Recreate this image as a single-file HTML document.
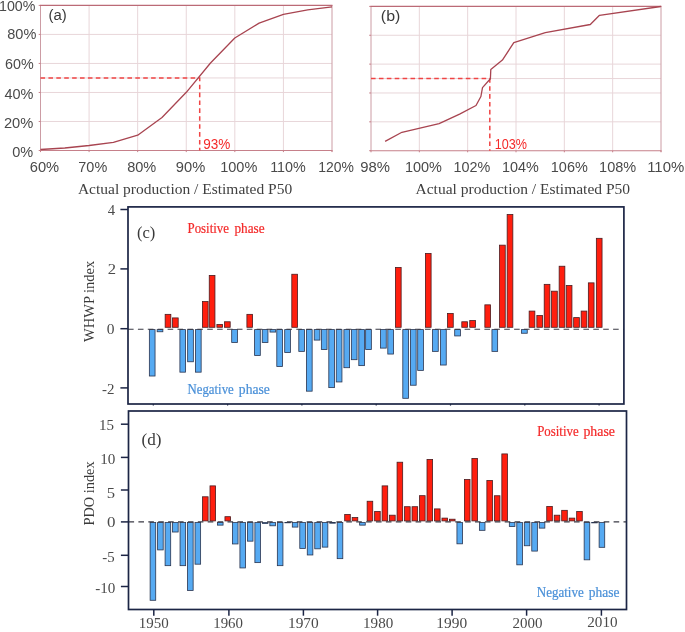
<!DOCTYPE html>
<html><head><meta charset="utf-8"><title>Figure</title>
<style>html,body{margin:0;padding:0;background:#fff;} body{width:685px;height:632px;overflow:hidden;font-family:"Liberation Sans", sans-serif;} svg{display:block;will-change:transform;}</style>
</head><body>
<svg width="685" height="632" viewBox="0 0 685 632">
<line x1="89.08" y1="5.40" x2="89.08" y2="150.50" stroke="#e8d6d9" stroke-width="1"/>
<line x1="137.67" y1="5.40" x2="137.67" y2="150.50" stroke="#e8d6d9" stroke-width="1"/>
<line x1="186.25" y1="5.40" x2="186.25" y2="150.50" stroke="#e8d6d9" stroke-width="1"/>
<line x1="234.83" y1="5.40" x2="234.83" y2="150.50" stroke="#e8d6d9" stroke-width="1"/>
<line x1="283.42" y1="5.40" x2="283.42" y2="150.50" stroke="#e8d6d9" stroke-width="1"/>
<line x1="40.50" y1="121.48" x2="332.00" y2="121.48" stroke="#e8d6d9" stroke-width="1"/>
<line x1="40.50" y1="92.46" x2="332.00" y2="92.46" stroke="#e8d6d9" stroke-width="1"/>
<line x1="40.50" y1="77.95" x2="332.00" y2="77.95" stroke="#e8d6d9" stroke-width="1"/>
<line x1="40.50" y1="63.44" x2="332.00" y2="63.44" stroke="#e8d6d9" stroke-width="1"/>
<line x1="40.50" y1="34.42" x2="332.00" y2="34.42" stroke="#e8d6d9" stroke-width="1"/>
<line x1="40.50" y1="5.40" x2="40.50" y2="150.50" stroke="#cc9ca4" stroke-width="1"/>
<line x1="332.00" y1="5.40" x2="332.00" y2="151.70" stroke="#cc9ca4" stroke-width="1"/>
<line x1="38.70" y1="150.50" x2="40.50" y2="150.50" stroke="#c6808a" stroke-width="1"/>
<line x1="38.70" y1="121.48" x2="40.50" y2="121.48" stroke="#c6808a" stroke-width="1"/>
<line x1="38.70" y1="92.46" x2="40.50" y2="92.46" stroke="#c6808a" stroke-width="1"/>
<line x1="38.70" y1="63.44" x2="40.50" y2="63.44" stroke="#c6808a" stroke-width="1"/>
<line x1="38.70" y1="34.42" x2="40.50" y2="34.42" stroke="#c6808a" stroke-width="1"/>
<line x1="38.70" y1="5.40" x2="40.50" y2="5.40" stroke="#c6808a" stroke-width="1"/>
<line x1="40.50" y1="150.50" x2="40.50" y2="152.10" stroke="#c6808a" stroke-width="1"/>
<line x1="89.08" y1="150.50" x2="89.08" y2="152.10" stroke="#c6808a" stroke-width="1"/>
<line x1="137.67" y1="150.50" x2="137.67" y2="152.10" stroke="#c6808a" stroke-width="1"/>
<line x1="186.25" y1="150.50" x2="186.25" y2="152.10" stroke="#c6808a" stroke-width="1"/>
<line x1="234.83" y1="150.50" x2="234.83" y2="152.10" stroke="#c6808a" stroke-width="1"/>
<line x1="283.42" y1="150.50" x2="283.42" y2="152.10" stroke="#c6808a" stroke-width="1"/>
<line x1="332.00" y1="150.50" x2="332.00" y2="152.10" stroke="#c6808a" stroke-width="1"/>
<line x1="40.00" y1="5.40" x2="332.50" y2="5.40" stroke="#bb6a76" stroke-width="1.1"/>
<line x1="40.00" y1="150.50" x2="332.50" y2="150.50" stroke="#c6808a" stroke-width="1.1"/>
<line x1="419.33" y1="6.40" x2="419.33" y2="150.70" stroke="#e8d6d9" stroke-width="1"/>
<line x1="467.67" y1="6.40" x2="467.67" y2="150.70" stroke="#e8d6d9" stroke-width="1"/>
<line x1="516.00" y1="6.40" x2="516.00" y2="150.70" stroke="#e8d6d9" stroke-width="1"/>
<line x1="564.33" y1="6.40" x2="564.33" y2="150.70" stroke="#e8d6d9" stroke-width="1"/>
<line x1="612.67" y1="6.40" x2="612.67" y2="150.70" stroke="#e8d6d9" stroke-width="1"/>
<line x1="371.00" y1="121.84" x2="661.00" y2="121.84" stroke="#e8d6d9" stroke-width="1"/>
<line x1="371.00" y1="92.98" x2="661.00" y2="92.98" stroke="#e8d6d9" stroke-width="1"/>
<line x1="371.00" y1="78.55" x2="661.00" y2="78.55" stroke="#e8d6d9" stroke-width="1"/>
<line x1="371.00" y1="64.12" x2="661.00" y2="64.12" stroke="#e8d6d9" stroke-width="1"/>
<line x1="371.00" y1="35.26" x2="661.00" y2="35.26" stroke="#e8d6d9" stroke-width="1"/>
<line x1="371.00" y1="6.40" x2="371.00" y2="150.70" stroke="#cc9ca4" stroke-width="1"/>
<line x1="661.00" y1="6.40" x2="661.00" y2="151.90" stroke="#cc9ca4" stroke-width="1"/>
<line x1="369.20" y1="150.70" x2="371.00" y2="150.70" stroke="#c6808a" stroke-width="1"/>
<line x1="369.20" y1="121.84" x2="371.00" y2="121.84" stroke="#c6808a" stroke-width="1"/>
<line x1="369.20" y1="92.98" x2="371.00" y2="92.98" stroke="#c6808a" stroke-width="1"/>
<line x1="369.20" y1="64.12" x2="371.00" y2="64.12" stroke="#c6808a" stroke-width="1"/>
<line x1="369.20" y1="35.26" x2="371.00" y2="35.26" stroke="#c6808a" stroke-width="1"/>
<line x1="369.20" y1="6.40" x2="371.00" y2="6.40" stroke="#c6808a" stroke-width="1"/>
<line x1="371.00" y1="150.70" x2="371.00" y2="152.30" stroke="#c6808a" stroke-width="1"/>
<line x1="419.33" y1="150.70" x2="419.33" y2="152.30" stroke="#c6808a" stroke-width="1"/>
<line x1="467.67" y1="150.70" x2="467.67" y2="152.30" stroke="#c6808a" stroke-width="1"/>
<line x1="516.00" y1="150.70" x2="516.00" y2="152.30" stroke="#c6808a" stroke-width="1"/>
<line x1="564.33" y1="150.70" x2="564.33" y2="152.30" stroke="#c6808a" stroke-width="1"/>
<line x1="612.67" y1="150.70" x2="612.67" y2="152.30" stroke="#c6808a" stroke-width="1"/>
<line x1="661.00" y1="150.70" x2="661.00" y2="152.30" stroke="#c6808a" stroke-width="1"/>
<line x1="370.50" y1="6.40" x2="661.50" y2="6.40" stroke="#bb6a76" stroke-width="1.1"/>
<line x1="370.50" y1="150.70" x2="661.50" y2="150.70" stroke="#c6808a" stroke-width="1.1"/>
<polyline points="40.50,77.95 199.70,77.95 199.70,150.50" fill="none" stroke="#f04444" stroke-width="1.5" stroke-dasharray="4.6 3.3"/>
<polyline points="371.00,78.55 489.80,78.55 489.80,150.70" fill="none" stroke="#f04444" stroke-width="1.5" stroke-dasharray="4.6 3.3"/>
<polyline points="40.50,149.50 64.80,148.00 89.10,145.50 113.40,142.30 137.70,135.20 162.00,117.50 186.30,92.30 210.50,63.00 234.80,38.00 259.10,23.10 283.40,14.40 307.70,9.90 332.00,6.90" fill="none" stroke="#a84450" stroke-width="1.3" stroke-linejoin="round"/>
<polyline points="385.10,141.40 401.90,132.30 439.10,123.60 459.60,114.10 476.00,105.50 480.90,96.50 482.50,87.60 490.40,78.70 490.80,69.50 502.40,60.10 513.80,42.70 545.30,32.70 590.30,24.50 599.50,15.30 660.80,6.50" fill="none" stroke="#a84450" stroke-width="1.3" stroke-linejoin="round"/>
<rect x="149.35" y="329.60" width="5.70" height="46.42" fill="#56aaf2" stroke="#2a3550" stroke-width="0.8"/>
<rect x="157.15" y="329.60" width="5.70" height="2.17" fill="#56aaf2" stroke="#2a3550" stroke-width="0.8"/>
<rect x="165.15" y="314.35" width="5.70" height="12.95" fill="#ff1e0e" stroke="#4a1c20" stroke-width="0.8"/>
<rect x="172.50" y="317.91" width="5.70" height="9.39" fill="#ff1e0e" stroke="#4a1c20" stroke-width="0.8"/>
<rect x="179.90" y="329.60" width="5.70" height="42.56" fill="#56aaf2" stroke="#2a3550" stroke-width="0.8"/>
<rect x="187.65" y="329.60" width="5.70" height="32.17" fill="#56aaf2" stroke="#2a3550" stroke-width="0.8"/>
<rect x="195.45" y="329.60" width="5.70" height="42.56" fill="#56aaf2" stroke="#2a3550" stroke-width="0.8"/>
<rect x="202.40" y="301.58" width="5.70" height="25.72" fill="#ff1e0e" stroke="#4a1c20" stroke-width="0.8"/>
<rect x="209.25" y="275.44" width="5.70" height="51.86" fill="#ff1e0e" stroke="#4a1c20" stroke-width="0.8"/>
<rect x="216.90" y="324.44" width="5.70" height="2.85" fill="#ff1e0e" stroke="#4a1c20" stroke-width="0.8"/>
<rect x="224.50" y="321.77" width="5.70" height="5.53" fill="#ff1e0e" stroke="#4a1c20" stroke-width="0.8"/>
<rect x="231.70" y="329.60" width="5.70" height="12.86" fill="#56aaf2" stroke="#2a3550" stroke-width="0.8"/>
<rect x="246.90" y="314.35" width="5.70" height="12.95" fill="#ff1e0e" stroke="#4a1c20" stroke-width="0.8"/>
<rect x="254.60" y="329.60" width="5.70" height="25.93" fill="#56aaf2" stroke="#2a3550" stroke-width="0.8"/>
<rect x="262.25" y="329.60" width="5.70" height="12.86" fill="#56aaf2" stroke="#2a3550" stroke-width="0.8"/>
<rect x="270.00" y="329.60" width="5.70" height="2.47" fill="#56aaf2" stroke="#2a3550" stroke-width="0.8"/>
<rect x="276.80" y="329.60" width="5.70" height="36.92" fill="#56aaf2" stroke="#2a3550" stroke-width="0.8"/>
<rect x="284.70" y="329.60" width="5.70" height="22.96" fill="#56aaf2" stroke="#2a3550" stroke-width="0.8"/>
<rect x="291.80" y="274.25" width="5.70" height="53.05" fill="#ff1e0e" stroke="#4a1c20" stroke-width="0.8"/>
<rect x="298.80" y="329.60" width="5.70" height="21.77" fill="#56aaf2" stroke="#2a3550" stroke-width="0.8"/>
<rect x="306.45" y="329.60" width="5.70" height="61.57" fill="#56aaf2" stroke="#2a3550" stroke-width="0.8"/>
<rect x="314.20" y="329.60" width="5.70" height="10.49" fill="#56aaf2" stroke="#2a3550" stroke-width="0.8"/>
<rect x="321.35" y="329.60" width="5.70" height="19.99" fill="#56aaf2" stroke="#2a3550" stroke-width="0.8"/>
<rect x="328.80" y="329.60" width="5.70" height="58.01" fill="#56aaf2" stroke="#2a3550" stroke-width="0.8"/>
<rect x="336.25" y="329.60" width="5.70" height="52.36" fill="#56aaf2" stroke="#2a3550" stroke-width="0.8"/>
<rect x="343.90" y="329.60" width="5.70" height="38.11" fill="#56aaf2" stroke="#2a3550" stroke-width="0.8"/>
<rect x="351.35" y="329.60" width="5.70" height="30.09" fill="#56aaf2" stroke="#2a3550" stroke-width="0.8"/>
<rect x="358.80" y="329.60" width="5.70" height="36.03" fill="#56aaf2" stroke="#2a3550" stroke-width="0.8"/>
<rect x="365.65" y="329.60" width="5.70" height="19.99" fill="#56aaf2" stroke="#2a3550" stroke-width="0.8"/>
<rect x="380.55" y="329.60" width="5.70" height="18.51" fill="#56aaf2" stroke="#2a3550" stroke-width="0.8"/>
<rect x="387.80" y="329.60" width="5.70" height="24.45" fill="#56aaf2" stroke="#2a3550" stroke-width="0.8"/>
<rect x="395.45" y="267.42" width="5.70" height="59.88" fill="#ff1e0e" stroke="#4a1c20" stroke-width="0.8"/>
<rect x="402.80" y="329.60" width="5.70" height="68.70" fill="#56aaf2" stroke="#2a3550" stroke-width="0.8"/>
<rect x="410.45" y="329.60" width="5.70" height="55.63" fill="#56aaf2" stroke="#2a3550" stroke-width="0.8"/>
<rect x="417.70" y="329.60" width="5.70" height="40.78" fill="#56aaf2" stroke="#2a3550" stroke-width="0.8"/>
<rect x="425.40" y="253.46" width="5.70" height="73.84" fill="#ff1e0e" stroke="#4a1c20" stroke-width="0.8"/>
<rect x="432.55" y="329.60" width="5.70" height="21.77" fill="#56aaf2" stroke="#2a3550" stroke-width="0.8"/>
<rect x="440.55" y="329.60" width="5.70" height="35.43" fill="#56aaf2" stroke="#2a3550" stroke-width="0.8"/>
<rect x="447.55" y="313.46" width="5.70" height="13.84" fill="#ff1e0e" stroke="#4a1c20" stroke-width="0.8"/>
<rect x="454.70" y="329.60" width="5.70" height="6.33" fill="#56aaf2" stroke="#2a3550" stroke-width="0.8"/>
<rect x="461.80" y="321.77" width="5.70" height="5.53" fill="#ff1e0e" stroke="#4a1c20" stroke-width="0.8"/>
<rect x="469.75" y="320.58" width="5.70" height="6.72" fill="#ff1e0e" stroke="#4a1c20" stroke-width="0.8"/>
<rect x="484.85" y="304.84" width="5.70" height="22.46" fill="#ff1e0e" stroke="#4a1c20" stroke-width="0.8"/>
<rect x="491.95" y="329.60" width="5.70" height="21.77" fill="#56aaf2" stroke="#2a3550" stroke-width="0.8"/>
<rect x="499.55" y="245.15" width="5.70" height="82.15" fill="#ff1e0e" stroke="#4a1c20" stroke-width="0.8"/>
<rect x="507.15" y="214.56" width="5.70" height="112.74" fill="#ff1e0e" stroke="#4a1c20" stroke-width="0.8"/>
<rect x="521.55" y="329.60" width="5.70" height="3.65" fill="#56aaf2" stroke="#2a3550" stroke-width="0.8"/>
<rect x="529.15" y="311.08" width="5.70" height="16.22" fill="#ff1e0e" stroke="#4a1c20" stroke-width="0.8"/>
<rect x="536.85" y="315.53" width="5.70" height="11.76" fill="#ff1e0e" stroke="#4a1c20" stroke-width="0.8"/>
<rect x="544.20" y="284.35" width="5.70" height="42.95" fill="#ff1e0e" stroke="#4a1c20" stroke-width="0.8"/>
<rect x="551.60" y="291.18" width="5.70" height="36.12" fill="#ff1e0e" stroke="#4a1c20" stroke-width="0.8"/>
<rect x="559.15" y="266.23" width="5.70" height="61.07" fill="#ff1e0e" stroke="#4a1c20" stroke-width="0.8"/>
<rect x="566.25" y="285.54" width="5.70" height="41.76" fill="#ff1e0e" stroke="#4a1c20" stroke-width="0.8"/>
<rect x="573.65" y="317.61" width="5.70" height="9.69" fill="#ff1e0e" stroke="#4a1c20" stroke-width="0.8"/>
<rect x="581.15" y="311.08" width="5.70" height="16.22" fill="#ff1e0e" stroke="#4a1c20" stroke-width="0.8"/>
<rect x="588.35" y="282.86" width="5.70" height="44.44" fill="#ff1e0e" stroke="#4a1c20" stroke-width="0.8"/>
<rect x="596.35" y="238.32" width="5.70" height="88.98" fill="#ff1e0e" stroke="#4a1c20" stroke-width="0.8"/>
<line x1="128.00" y1="329.20" x2="623.90" y2="329.20" stroke="#3a3a44" stroke-width="1.1" stroke-dasharray="5.6 4.3"/>
<rect x="128.00" y="206.90" width="495.90" height="197.10" fill="none" stroke="#1c2545" stroke-width="1.7"/>
<line x1="120.40" y1="209.50" x2="128.00" y2="209.50" stroke="#1c2545" stroke-width="1.5"/>
<line x1="120.40" y1="268.90" x2="128.00" y2="268.90" stroke="#1c2545" stroke-width="1.5"/>
<line x1="120.40" y1="328.70" x2="128.00" y2="328.70" stroke="#1c2545" stroke-width="1.5"/>
<line x1="120.40" y1="387.90" x2="128.00" y2="387.90" stroke="#1c2545" stroke-width="1.5"/>
<line x1="153.30" y1="404.00" x2="153.30" y2="405.60" stroke="#1c2545" stroke-width="1.2"/>
<line x1="227.60" y1="404.00" x2="227.60" y2="405.60" stroke="#1c2545" stroke-width="1.2"/>
<line x1="301.90" y1="404.00" x2="301.90" y2="405.60" stroke="#1c2545" stroke-width="1.2"/>
<line x1="376.20" y1="404.00" x2="376.20" y2="405.60" stroke="#1c2545" stroke-width="1.2"/>
<line x1="450.50" y1="404.00" x2="450.50" y2="405.60" stroke="#1c2545" stroke-width="1.2"/>
<line x1="524.80" y1="404.00" x2="524.80" y2="405.60" stroke="#1c2545" stroke-width="1.2"/>
<line x1="599.10" y1="404.00" x2="599.10" y2="405.60" stroke="#1c2545" stroke-width="1.2"/>
<rect x="150.12" y="522.60" width="5.60" height="77.69" fill="#56aaf2" stroke="#2a3550" stroke-width="0.8"/>
<rect x="157.60" y="522.60" width="5.60" height="27.31" fill="#56aaf2" stroke="#2a3550" stroke-width="0.8"/>
<rect x="165.09" y="522.60" width="5.60" height="43.07" fill="#56aaf2" stroke="#2a3550" stroke-width="0.8"/>
<rect x="172.57" y="522.60" width="5.60" height="9.42" fill="#56aaf2" stroke="#2a3550" stroke-width="0.8"/>
<rect x="180.05" y="522.60" width="5.60" height="43.07" fill="#56aaf2" stroke="#2a3550" stroke-width="0.8"/>
<rect x="187.54" y="522.60" width="5.60" height="67.84" fill="#56aaf2" stroke="#2a3550" stroke-width="0.8"/>
<rect x="195.02" y="522.60" width="5.60" height="41.58" fill="#56aaf2" stroke="#2a3550" stroke-width="0.8"/>
<rect x="202.50" y="496.78" width="5.60" height="24.12" fill="#ff1e0e" stroke="#4a1c20" stroke-width="0.8"/>
<rect x="209.99" y="485.88" width="5.60" height="35.02" fill="#ff1e0e" stroke="#4a1c20" stroke-width="0.8"/>
<rect x="217.47" y="522.60" width="5.60" height="2.54" fill="#56aaf2" stroke="#2a3550" stroke-width="0.8"/>
<rect x="224.95" y="516.68" width="5.60" height="4.22" fill="#ff1e0e" stroke="#4a1c20" stroke-width="0.8"/>
<rect x="232.44" y="522.60" width="5.60" height="21.35" fill="#56aaf2" stroke="#2a3550" stroke-width="0.8"/>
<rect x="239.92" y="522.60" width="5.60" height="45.34" fill="#56aaf2" stroke="#2a3550" stroke-width="0.8"/>
<rect x="247.40" y="522.60" width="5.60" height="18.56" fill="#56aaf2" stroke="#2a3550" stroke-width="0.8"/>
<rect x="254.89" y="522.60" width="5.60" height="40.02" fill="#56aaf2" stroke="#2a3550" stroke-width="0.8"/>
<rect x="262.37" y="522.60" width="5.60" height="0.92" fill="#56aaf2" stroke="#2a3550" stroke-width="0.8"/>
<rect x="269.85" y="522.60" width="5.60" height="3.19" fill="#56aaf2" stroke="#2a3550" stroke-width="0.8"/>
<rect x="277.34" y="522.60" width="5.60" height="43.07" fill="#56aaf2" stroke="#2a3550" stroke-width="0.8"/>
<rect x="284.82" y="522.60" width="5.60" height="0.20" fill="#56aaf2" stroke="#2a3550" stroke-width="0.8"/>
<rect x="292.30" y="522.60" width="5.60" height="4.49" fill="#56aaf2" stroke="#2a3550" stroke-width="0.8"/>
<rect x="299.79" y="522.60" width="5.60" height="25.82" fill="#56aaf2" stroke="#2a3550" stroke-width="0.8"/>
<rect x="307.27" y="522.60" width="5.60" height="32.37" fill="#56aaf2" stroke="#2a3550" stroke-width="0.8"/>
<rect x="314.75" y="522.60" width="5.60" height="26.21" fill="#56aaf2" stroke="#2a3550" stroke-width="0.8"/>
<rect x="322.24" y="522.60" width="5.60" height="24.52" fill="#56aaf2" stroke="#2a3550" stroke-width="0.8"/>
<rect x="329.72" y="522.60" width="5.60" height="0.60" fill="#56aaf2" stroke="#2a3550" stroke-width="0.8"/>
<rect x="337.20" y="522.60" width="5.60" height="36.06" fill="#56aaf2" stroke="#2a3550" stroke-width="0.8"/>
<rect x="344.69" y="514.41" width="5.60" height="6.49" fill="#ff1e0e" stroke="#4a1c20" stroke-width="0.8"/>
<rect x="352.17" y="517.59" width="5.60" height="3.31" fill="#ff1e0e" stroke="#4a1c20" stroke-width="0.8"/>
<rect x="359.65" y="522.60" width="5.60" height="2.54" fill="#56aaf2" stroke="#2a3550" stroke-width="0.8"/>
<rect x="367.14" y="501.25" width="5.60" height="19.65" fill="#ff1e0e" stroke="#4a1c20" stroke-width="0.8"/>
<rect x="374.62" y="511.50" width="5.60" height="9.40" fill="#ff1e0e" stroke="#4a1c20" stroke-width="0.8"/>
<rect x="382.10" y="485.88" width="5.60" height="35.02" fill="#ff1e0e" stroke="#4a1c20" stroke-width="0.8"/>
<rect x="389.59" y="515.19" width="5.60" height="5.71" fill="#ff1e0e" stroke="#4a1c20" stroke-width="0.8"/>
<rect x="397.07" y="462.22" width="5.60" height="58.68" fill="#ff1e0e" stroke="#4a1c20" stroke-width="0.8"/>
<rect x="404.55" y="506.70" width="5.60" height="14.20" fill="#ff1e0e" stroke="#4a1c20" stroke-width="0.8"/>
<rect x="412.04" y="506.70" width="5.60" height="14.20" fill="#ff1e0e" stroke="#4a1c20" stroke-width="0.8"/>
<rect x="419.52" y="495.67" width="5.60" height="25.23" fill="#ff1e0e" stroke="#4a1c20" stroke-width="0.8"/>
<rect x="427.00" y="459.43" width="5.60" height="61.47" fill="#ff1e0e" stroke="#4a1c20" stroke-width="0.8"/>
<rect x="434.49" y="508.90" width="5.60" height="12.00" fill="#ff1e0e" stroke="#4a1c20" stroke-width="0.8"/>
<rect x="441.97" y="518.11" width="5.60" height="2.79" fill="#ff1e0e" stroke="#4a1c20" stroke-width="0.8"/>
<rect x="449.45" y="519.21" width="5.60" height="1.69" fill="#ff1e0e" stroke="#4a1c20" stroke-width="0.8"/>
<rect x="456.94" y="522.60" width="5.60" height="21.22" fill="#56aaf2" stroke="#2a3550" stroke-width="0.8"/>
<rect x="464.42" y="479.53" width="5.60" height="41.37" fill="#ff1e0e" stroke="#4a1c20" stroke-width="0.8"/>
<rect x="471.90" y="458.46" width="5.60" height="62.44" fill="#ff1e0e" stroke="#4a1c20" stroke-width="0.8"/>
<rect x="479.39" y="522.60" width="5.60" height="7.73" fill="#56aaf2" stroke="#2a3550" stroke-width="0.8"/>
<rect x="486.87" y="480.50" width="5.60" height="40.40" fill="#ff1e0e" stroke="#4a1c20" stroke-width="0.8"/>
<rect x="494.35" y="495.74" width="5.60" height="25.16" fill="#ff1e0e" stroke="#4a1c20" stroke-width="0.8"/>
<rect x="501.84" y="453.92" width="5.60" height="66.98" fill="#ff1e0e" stroke="#4a1c20" stroke-width="0.8"/>
<rect x="509.32" y="522.60" width="5.60" height="3.97" fill="#56aaf2" stroke="#2a3550" stroke-width="0.8"/>
<rect x="516.80" y="522.60" width="5.60" height="42.22" fill="#56aaf2" stroke="#2a3550" stroke-width="0.8"/>
<rect x="524.28" y="522.60" width="5.60" height="23.16" fill="#56aaf2" stroke="#2a3550" stroke-width="0.8"/>
<rect x="531.77" y="522.60" width="5.60" height="28.48" fill="#56aaf2" stroke="#2a3550" stroke-width="0.8"/>
<rect x="539.25" y="522.60" width="5.60" height="5.52" fill="#56aaf2" stroke="#2a3550" stroke-width="0.8"/>
<rect x="546.73" y="506.44" width="5.60" height="14.46" fill="#ff1e0e" stroke="#4a1c20" stroke-width="0.8"/>
<rect x="554.22" y="515.19" width="5.60" height="5.71" fill="#ff1e0e" stroke="#4a1c20" stroke-width="0.8"/>
<rect x="561.70" y="510.33" width="5.60" height="10.57" fill="#ff1e0e" stroke="#4a1c20" stroke-width="0.8"/>
<rect x="569.18" y="518.11" width="5.60" height="2.79" fill="#ff1e0e" stroke="#4a1c20" stroke-width="0.8"/>
<rect x="576.67" y="511.50" width="5.60" height="9.40" fill="#ff1e0e" stroke="#4a1c20" stroke-width="0.8"/>
<rect x="584.15" y="522.60" width="5.60" height="37.23" fill="#56aaf2" stroke="#2a3550" stroke-width="0.8"/>
<rect x="591.63" y="522.60" width="5.60" height="0.27" fill="#56aaf2" stroke="#2a3550" stroke-width="0.8"/>
<rect x="599.12" y="522.60" width="5.60" height="24.72" fill="#56aaf2" stroke="#2a3550" stroke-width="0.8"/>
<line x1="128.50" y1="521.90" x2="626.50" y2="521.90" stroke="#3a3a44" stroke-width="1.1" stroke-dasharray="5.6 4.3"/>
<rect x="128.50" y="411.00" width="498.00" height="198.50" fill="none" stroke="#1c2545" stroke-width="1.7"/>
<line x1="120.90" y1="424.20" x2="128.50" y2="424.20" stroke="#1c2545" stroke-width="1.5"/>
<line x1="120.90" y1="457.40" x2="128.50" y2="457.40" stroke="#1c2545" stroke-width="1.5"/>
<line x1="120.90" y1="490.00" x2="128.50" y2="490.00" stroke="#1c2545" stroke-width="1.5"/>
<line x1="120.90" y1="521.90" x2="128.50" y2="521.90" stroke="#1c2545" stroke-width="1.5"/>
<line x1="120.90" y1="555.30" x2="128.50" y2="555.30" stroke="#1c2545" stroke-width="1.5"/>
<line x1="120.90" y1="586.50" x2="128.50" y2="586.50" stroke="#1c2545" stroke-width="1.5"/>
<line x1="153.80" y1="609.50" x2="153.80" y2="615.70" stroke="#1c2545" stroke-width="1.5"/>
<line x1="228.90" y1="609.50" x2="228.90" y2="615.70" stroke="#1c2545" stroke-width="1.5"/>
<line x1="303.40" y1="609.50" x2="303.40" y2="615.70" stroke="#1c2545" stroke-width="1.5"/>
<line x1="377.60" y1="609.50" x2="377.60" y2="615.70" stroke="#1c2545" stroke-width="1.5"/>
<line x1="452.10" y1="609.50" x2="452.10" y2="615.70" stroke="#1c2545" stroke-width="1.5"/>
<line x1="526.60" y1="609.50" x2="526.60" y2="615.70" stroke="#1c2545" stroke-width="1.5"/>
<line x1="601.40" y1="609.50" x2="601.40" y2="615.70" stroke="#1c2545" stroke-width="1.5"/>
<text x="-0.98" y="10.7" font-family='"Liberation Sans", sans-serif' font-size="14.5" fill="#4a4a4a" textLength="36.36" lengthAdjust="spacingAndGlyphs">100%</text>
<text x="7.25" y="39.0" font-family='"Liberation Sans", sans-serif' font-size="14.5" fill="#4a4a4a" textLength="29.08" lengthAdjust="spacingAndGlyphs">80%</text>
<text x="5.06" y="69.15" font-family='"Liberation Sans", sans-serif' font-size="14.5" fill="#4a4a4a" textLength="28.67" lengthAdjust="spacingAndGlyphs">60%</text>
<text x="4.45" y="98.6" font-family='"Liberation Sans", sans-serif' font-size="14.5" fill="#4a4a4a" textLength="28.98" lengthAdjust="spacingAndGlyphs">40%</text>
<text x="3.94" y="127.65" font-family='"Liberation Sans", sans-serif' font-size="14.5" fill="#4a4a4a" textLength="29.4" lengthAdjust="spacingAndGlyphs">20%</text>
<text x="12.3" y="156.9" font-family='"Liberation Sans", sans-serif' font-size="14.5" fill="#4a4a4a" textLength="20.97" lengthAdjust="spacingAndGlyphs">0%</text>
<text x="29.74" y="172.45" font-family='"Liberation Sans", sans-serif' font-size="14.5" fill="#4a4a4a" textLength="29.4" lengthAdjust="spacingAndGlyphs">60%</text>
<text x="78.35" y="172.45" font-family='"Liberation Sans", sans-serif' font-size="14.5" fill="#4a4a4a" textLength="28.87" lengthAdjust="spacingAndGlyphs">70%</text>
<text x="127.2" y="172.45" font-family='"Liberation Sans", sans-serif' font-size="14.5" fill="#4a4a4a" textLength="29.13" lengthAdjust="spacingAndGlyphs">80%</text>
<text x="175.84" y="172.45" font-family='"Liberation Sans", sans-serif' font-size="14.5" fill="#4a4a4a" textLength="29.4" lengthAdjust="spacingAndGlyphs">90%</text>
<text x="220.2" y="172.45" font-family='"Liberation Sans", sans-serif' font-size="14.5" fill="#4a4a4a" textLength="37.09" lengthAdjust="spacingAndGlyphs">100%</text>
<text x="270.21" y="172.45" font-family='"Liberation Sans", sans-serif' font-size="14.5" fill="#4a4a4a" textLength="35.6" lengthAdjust="spacingAndGlyphs">110%</text>
<text x="318.34" y="172.45" font-family='"Liberation Sans", sans-serif' font-size="14.5" fill="#4a4a4a" textLength="35.63" lengthAdjust="spacingAndGlyphs">120%</text>
<text x="360.23" y="172.05" font-family='"Liberation Sans", sans-serif' font-size="14.5" fill="#4a4a4a" textLength="29.71" lengthAdjust="spacingAndGlyphs">98%</text>
<text x="405.0" y="172.05" font-family='"Liberation Sans", sans-serif' font-size="14.5" fill="#4a4a4a" textLength="36.99" lengthAdjust="spacingAndGlyphs">100%</text>
<text x="453.61" y="172.05" font-family='"Liberation Sans", sans-serif' font-size="14.5" fill="#4a4a4a" textLength="36.78" lengthAdjust="spacingAndGlyphs">102%</text>
<text x="502.01" y="171.85" font-family='"Liberation Sans", sans-serif' font-size="14.5" fill="#4a4a4a" textLength="36.78" lengthAdjust="spacingAndGlyphs">104%</text>
<text x="550.8" y="171.65" font-family='"Liberation Sans", sans-serif' font-size="14.5" fill="#4a4a4a" textLength="36.99" lengthAdjust="spacingAndGlyphs">106%</text>
<text x="599.1" y="171.65" font-family='"Liberation Sans", sans-serif' font-size="14.5" fill="#4a4a4a" textLength="37.09" lengthAdjust="spacingAndGlyphs">108%</text>
<text x="647.17" y="171.65" font-family='"Liberation Sans", sans-serif' font-size="14.5" fill="#4a4a4a" textLength="37.06" lengthAdjust="spacingAndGlyphs">110%</text>
<text x="48.52" y="20.38" font-family='"Liberation Sans", sans-serif' font-size="15.2" fill="#3a3a3a" textLength="18.23" lengthAdjust="spacingAndGlyphs">(a)</text>
<text x="380.85" y="20.58" font-family='"Liberation Sans", sans-serif' font-size="15.2" fill="#3a3a3a" textLength="19.46" lengthAdjust="spacingAndGlyphs">(b)</text>
<text x="203.26" y="148.75" font-family='"Liberation Sans", sans-serif' font-size="13.8" fill="#f42a2a" textLength="27.1" lengthAdjust="spacingAndGlyphs">93%</text>
<text x="494.69" y="148.75" font-family='"Liberation Sans", sans-serif' font-size="13.8" fill="#f42a2a" textLength="32.21" lengthAdjust="spacingAndGlyphs">103%</text>
<text x="77.95" y="194.22" font-family='"Liberation Serif", serif' font-size="15.2" fill="#404040" textLength="214.23" lengthAdjust="spacingAndGlyphs">Actual production / Estimated P50</text>
<text x="415.54" y="194.22" font-family='"Liberation Serif", serif' font-size="15.2" fill="#404040" textLength="214.53" lengthAdjust="spacingAndGlyphs">Actual production / Estimated P50</text>
<text x="107.75" y="215.02" font-family='"Liberation Serif", serif' font-size="14.7" fill="#4a4a4a" textLength="7.34" lengthAdjust="spacingAndGlyphs">4</text>
<text x="107.75" y="274.12" font-family='"Liberation Serif", serif' font-size="14.7" fill="#4a4a4a" textLength="8.3" lengthAdjust="spacingAndGlyphs">2</text>
<text x="106.87" y="333.75" font-family='"Liberation Serif", serif' font-size="14.7" fill="#4a4a4a" textLength="7.75" lengthAdjust="spacingAndGlyphs">0</text>
<text x="102.09" y="393.68" font-family='"Liberation Serif", serif' font-size="14.7" fill="#4a4a4a" textLength="12.47" lengthAdjust="spacingAndGlyphs">-2</text>
<text x="98.92" y="430.15" font-family='"Liberation Serif", serif' font-size="14.7" fill="#4a4a4a" textLength="15.03" lengthAdjust="spacingAndGlyphs">15</text>
<text x="100.21" y="463.6" font-family='"Liberation Serif", serif' font-size="14.7" fill="#4a4a4a" textLength="15.14" lengthAdjust="spacingAndGlyphs">10</text>
<text x="106.65" y="497.5" font-family='"Liberation Serif", serif' font-size="14.7" fill="#4a4a4a" textLength="8.32" lengthAdjust="spacingAndGlyphs">5</text>
<text x="106.92" y="527.45" font-family='"Liberation Serif", serif' font-size="14.7" fill="#4a4a4a" textLength="8.46" lengthAdjust="spacingAndGlyphs">0</text>
<text x="102.39" y="561.8" font-family='"Liberation Serif", serif' font-size="14.7" fill="#4a4a4a" textLength="12.41" lengthAdjust="spacingAndGlyphs">-5</text>
<text x="95.19" y="592.5" font-family='"Liberation Serif", serif' font-size="14.7" fill="#4a4a4a" textLength="20.12" lengthAdjust="spacingAndGlyphs">-10</text>
<text x="138.7" y="627.52" font-family='"Liberation Serif", serif' font-size="14.4" fill="#4a4a4a" textLength="29.95" lengthAdjust="spacingAndGlyphs">1950</text>
<text x="213.21" y="627.52" font-family='"Liberation Serif", serif' font-size="14.4" fill="#4a4a4a" textLength="29.74" lengthAdjust="spacingAndGlyphs">1960</text>
<text x="287.96" y="627.52" font-family='"Liberation Serif", serif' font-size="14.4" fill="#4a4a4a" textLength="30.81" lengthAdjust="spacingAndGlyphs">1970</text>
<text x="363.09" y="627.52" font-family='"Liberation Serif", serif' font-size="14.4" fill="#4a4a4a" textLength="30.17" lengthAdjust="spacingAndGlyphs">1980</text>
<text x="436.36" y="627.52" font-family='"Liberation Serif", serif' font-size="14.4" fill="#4a4a4a" textLength="30.81" lengthAdjust="spacingAndGlyphs">1990</text>
<text x="512.58" y="627.52" font-family='"Liberation Serif", serif' font-size="14.4" fill="#4a4a4a" textLength="29.97" lengthAdjust="spacingAndGlyphs">2000</text>
<text x="587.27" y="627.38" font-family='"Liberation Serif", serif' font-size="14.4" fill="#4a4a4a" textLength="30.29" lengthAdjust="spacingAndGlyphs">2010</text>
<text x="136.97" y="238.18" font-family='"Liberation Serif", serif' font-size="17" fill="#3a3a3a" textLength="18.38" lengthAdjust="spacingAndGlyphs">(c)</text>
<text x="141.54" y="444.88" font-family='"Liberation Serif", serif' font-size="17" fill="#3a3a3a" textLength="19.99" lengthAdjust="spacingAndGlyphs">(d)</text>
<text x="187.55" y="233.2" font-family='"Liberation Serif", serif' font-size="14.2" fill="#f42a2a" stroke="#f42a2a" stroke-width="0.22" textLength="41.39" lengthAdjust="spacingAndGlyphs">Positive</text>
<text x="234.47" y="233.2" font-family='"Liberation Serif", serif' font-size="14.2" fill="#f42a2a" stroke="#f42a2a" stroke-width="0.22" textLength="30.06" lengthAdjust="spacingAndGlyphs">phase</text>
<text x="187.55" y="394.3" font-family='"Liberation Serif", serif' font-size="14.2" fill="#4a90d8" stroke="#4a90d8" stroke-width="0.22" textLength="46.17" lengthAdjust="spacingAndGlyphs">Negative</text>
<text x="238.86" y="394.3" font-family='"Liberation Serif", serif' font-size="14.2" fill="#4a90d8" stroke="#4a90d8" stroke-width="0.22" textLength="30.98" lengthAdjust="spacingAndGlyphs">phase</text>
<text x="537.15" y="435.9" font-family='"Liberation Serif", serif' font-size="14.2" fill="#f42a2a" stroke="#f42a2a" stroke-width="0.22" textLength="41.49" lengthAdjust="spacingAndGlyphs">Positive</text>
<text x="583.46" y="435.9" font-family='"Liberation Serif", serif' font-size="14.2" fill="#f42a2a" stroke="#f42a2a" stroke-width="0.22" textLength="31.49" lengthAdjust="spacingAndGlyphs">phase</text>
<text x="536.84" y="596.6" font-family='"Liberation Serif", serif' font-size="14.2" fill="#4a90d8" stroke="#4a90d8" stroke-width="0.22" textLength="46.89" lengthAdjust="spacingAndGlyphs">Negative</text>
<text x="588.86" y="596.6" font-family='"Liberation Serif", serif' font-size="14.2" fill="#4a90d8" stroke="#4a90d8" stroke-width="0.22" textLength="30.67" lengthAdjust="spacingAndGlyphs">phase</text>
<text transform="translate(93.98,341.9) rotate(-90)" x="0" y="0" font-family='"Liberation Serif", serif' font-size="14.5" fill="#3a3a3a" textLength="81.22" lengthAdjust="spacingAndGlyphs">WHWP index</text>
<text transform="translate(94.08,525.49) rotate(-90)" x="0" y="0" font-family='"Liberation Serif", serif' font-size="14.5" fill="#3a3a3a" textLength="64.1" lengthAdjust="spacingAndGlyphs">PDO index</text>
</svg>
</body></html>
